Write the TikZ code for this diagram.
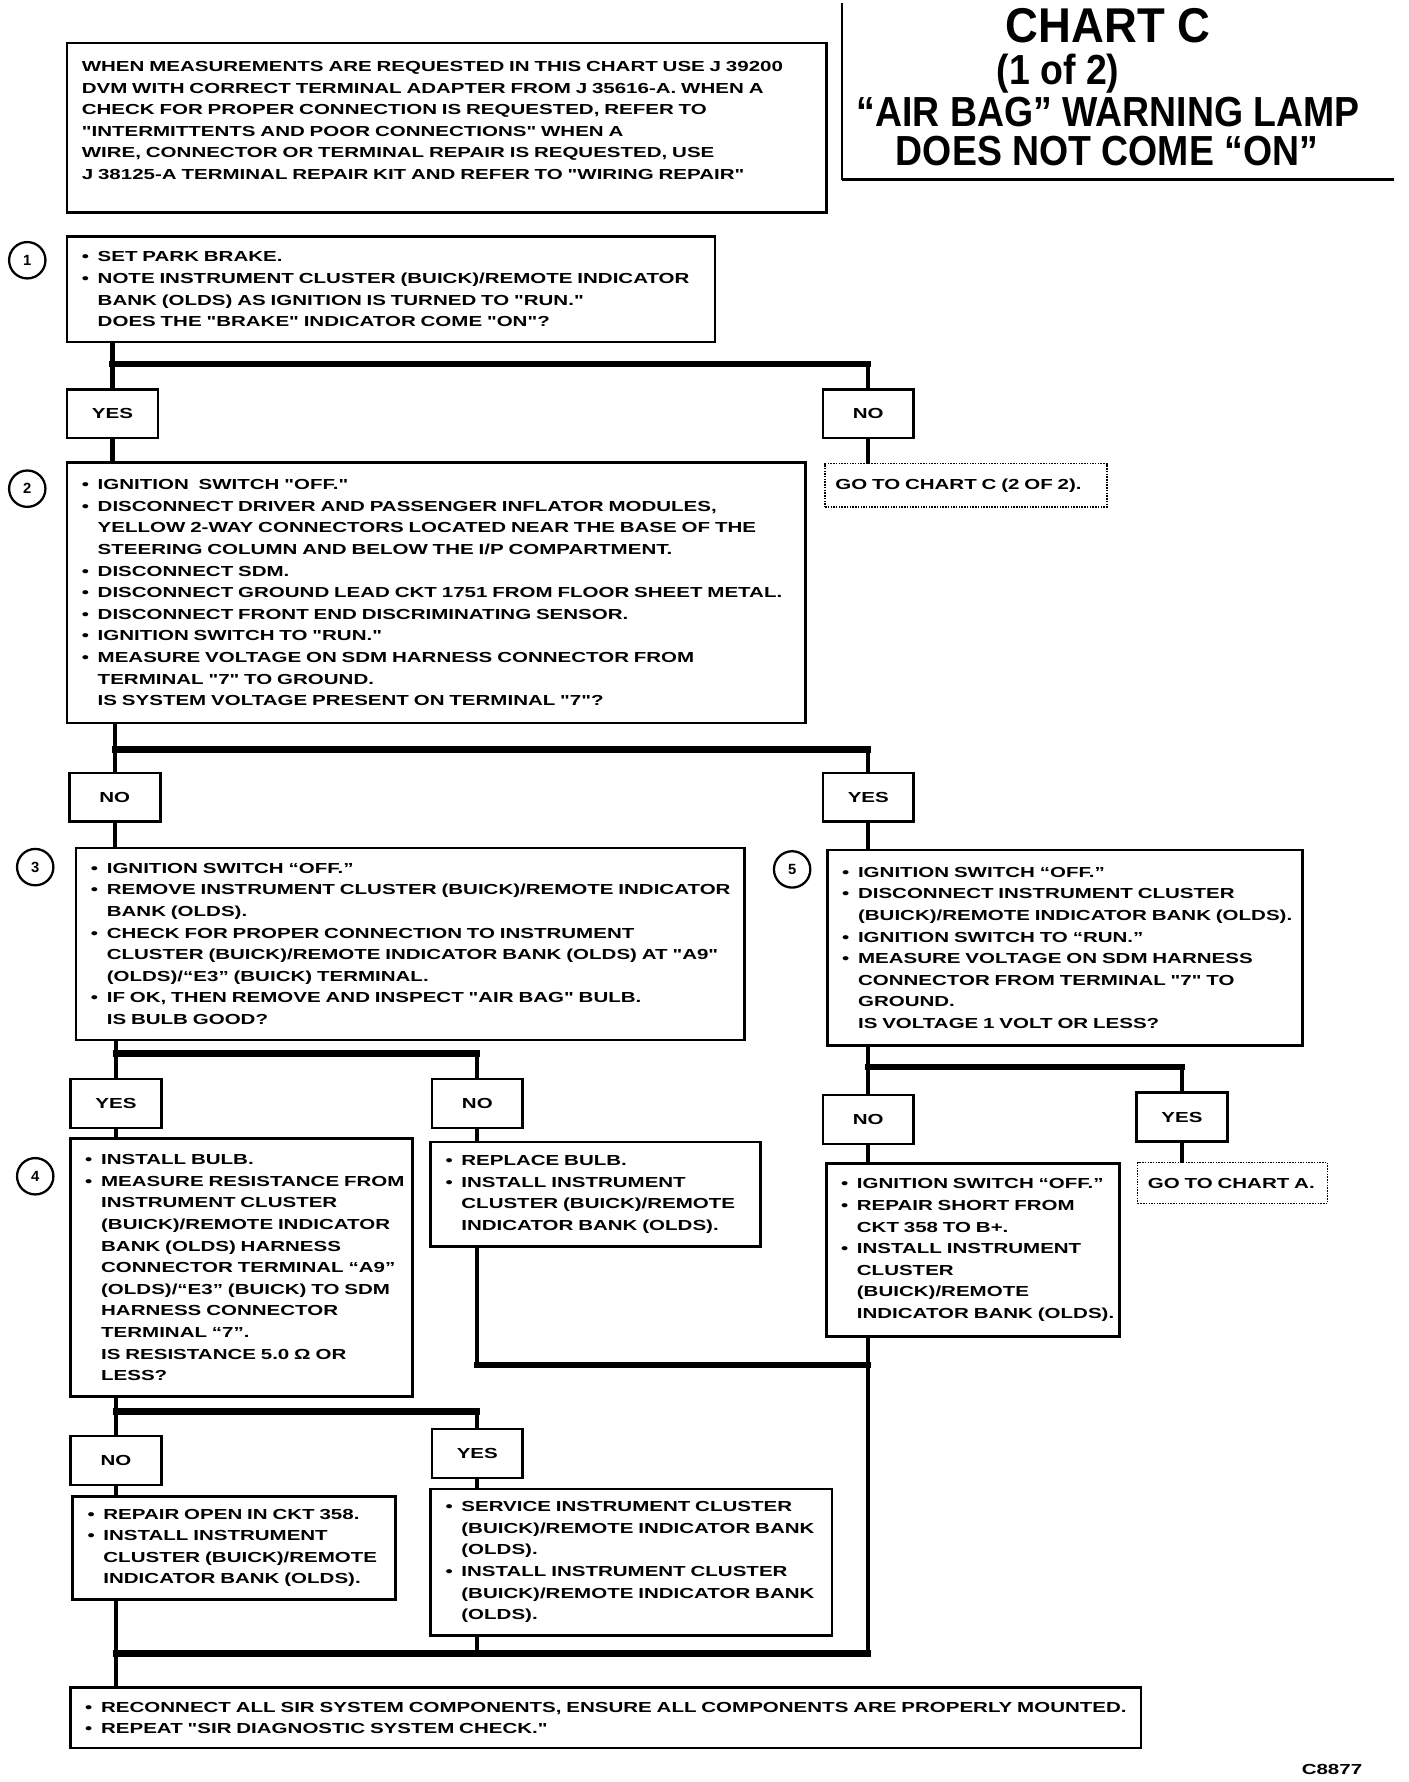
\documentclass[tikz,border=0pt]{standalone}
\usepackage{fontspec}
\newfontfamily\bodyff{Liberation Sans}[FakeStretch=1.41]
\newfontfamily\titleff{Liberation Sans}[FakeStretch=0.89]
\newfontfamily\titleffB{Liberation Sans}[FakeStretch=0.93]
\newfontfamily\numff{Liberation Sans}
\newcommand\bodyfont{\bodyff\bfseries\fontsize{12.8}{19}\selectfont}
\newcommand\Bul[1]{\mbox{\makebox[14pt][l]{•}#1}}
\newcommand\Cnt[1]{\mbox{\hspace*{14pt}#1}}
\tikzset{
  tbox/.style 2 args={draw, line width=2.3pt, anchor=north west, outer sep=0pt,
    inner xsep=13pt, inner ysep=0pt, align=left, font=\bodyfont,
    text width=#1pt, minimum height=#2pt},
  dbox/.style 2 args={draw, dash pattern=on 1.3pt off 1.1pt, line width=1.3pt,
    anchor=north west, outer sep=0pt, inner xsep=9pt, inner ysep=0pt,
    align=left, font=\bodyfont, text width=#1pt, minimum height=#2pt},
  lab/.style={draw, line width=2.3pt, minimum width=80pt, minimum height=43pt,
    inner sep=0pt, outer sep=0pt, font=\bodyfont},
  numc/.style={circle, draw, line width=2pt, minimum size=32pt, inner sep=0pt,
    font=\numff\bfseries\fontsize{13}{13}\selectfont},
  vl/.style={line width=3.8pt},
  hl/.style={line width=5.5pt, line cap=rect},
  ttl/.style={anchor=base, inner sep=0pt, font=\titleff\bfseries\fontsize{37}{37}\selectfont},
}
\begin{document}
\begin{tikzpicture}[x=1pt,y=-1pt]
\path[fill=white] (0,0) rectangle (1239,1568);
\useasboundingbox (0,0) rectangle (1239,1568);

% title block
\draw[line width=2pt] (741,3) -- (741,158);
\draw[line width=2.5pt] (741,158) -- (1227,158);
\node[ttl, font=\titleffB\bfseries\fontsize{43}{43}\selectfont] (t1) at (975,37) {CHART C};
\node[ttl] (t2) at (931,74) {(1 of 2)};
\node[ttl] (t3) at (975,111) {“AIR BAG” WARNING LAMP};
\node[ttl] (t4) at (974,146) {DOES NOT COME “ON”};

% note
\node[tbox={642}{149}] (note) at (59,38) {WHEN MEASUREMENTS ARE REQUESTED IN THIS CHART USE J 39200\\
DVM WITH CORRECT TERMINAL ADAPTER FROM J 35616-A. WHEN A\\
CHECK FOR PROPER CONNECTION IS REQUESTED, REFER TO\\
"INTERMITTENTS AND POOR CONNECTIONS" WHEN A\\
WIRE, CONNECTOR OR TERMINAL REPAIR IS REQUESTED, USE\\
J 38125-A TERMINAL REPAIR KIT AND REFER TO "WIRING REPAIR"\\[-6pt] \mbox{}};

% step 1
\node[numc] (c1) at (24,229) {1};
\node[tbox={544}{93}] (b1) at (59,208) {\Bul{SET PARK BRAKE.}\\
\Bul{NOTE INSTRUMENT CLUSTER (BUICK)/REMOTE INDICATOR}\\
\Cnt{BANK (OLDS) AS IGNITION IS TURNED TO "RUN."}\\
\Cnt{DOES THE "BRAKE" INDICATOR COME "ON"?}};
\node[lab] (y1) at (99,364) {YES};
\node[lab] (n1) at (764,364) {NO};
\node[dbox={230}{38}] (g1) at (726,408) {GO TO CHART C (2 OF 2).};

% step 2
\node[numc] (c2) at (24,430) {2};
\node[tbox={624}{229}] (b2) at (59,407) {\Bul{IGNITION\ \ SWITCH "OFF."}\\
\Bul{DISCONNECT DRIVER AND PASSENGER INFLATOR MODULES,}\\
\Cnt{YELLOW 2-WAY CONNECTORS LOCATED NEAR THE BASE OF THE}\\
\Cnt{STEERING COLUMN AND BELOW THE I/P COMPARTMENT.}\\
\Bul{DISCONNECT SDM.}\\
\Bul{DISCONNECT GROUND LEAD CKT 1751 FROM FLOOR SHEET METAL.}\\
\Bul{DISCONNECT FRONT END DISCRIMINATING SENSOR.}\\
\Bul{IGNITION SWITCH TO "RUN."}\\
\Bul{MEASURE VOLTAGE ON SDM HARNESS CONNECTOR FROM}\\
\Cnt{TERMINAL "7" TO GROUND.}\\
\Cnt{IS SYSTEM VOLTAGE PRESENT ON TERMINAL "7"?}};
\node[lab] (n2) at (101,701.5) {NO};
\node[lab] (y2) at (764,701.5) {YES};

% step 3
\node[numc] (c3) at (31,763) {3};
\node[tbox={562}{169}] (b3) at (67,746) {\Bul{IGNITION SWITCH “OFF.”}\\
\Bul{REMOVE INSTRUMENT CLUSTER (BUICK)/REMOTE INDICATOR}\\
\Cnt{BANK (OLDS).}\\
\Bul{CHECK FOR PROPER CONNECTION TO INSTRUMENT}\\
\Cnt{CLUSTER (BUICK)/REMOTE INDICATOR BANK (OLDS) AT "A9"}\\
\Cnt{(OLDS)/“E3” (BUICK) TERMINAL.}\\
\Bul{IF OK, THEN REMOVE AND INSPECT "AIR BAG" BULB.}\\
\Cnt{IS BULB GOOD?}};
\node[lab] (y3) at (102,971) {YES};
\node[lab] (n3) at (420,971) {NO};

% step 5
\node[numc] (c5) at (697,765) {5};
\node[tbox={392}{172}] (b5) at (728,748) {\Bul{IGNITION SWITCH “OFF.”}\\
\Bul{DISCONNECT INSTRUMENT CLUSTER}\\
\Cnt{(BUICK)/REMOTE INDICATOR BANK (OLDS).}\\
\Bul{IGNITION SWITCH TO “RUN.”}\\
\Bul{MEASURE VOLTAGE ON SDM HARNESS}\\
\Cnt{CONNECTOR FROM TERMINAL "7" TO}\\
\Cnt{GROUND.}\\
\Cnt{IS VOLTAGE 1 VOLT OR LESS?}};
\node[lab] (n5) at (764,985) {NO};
\node[lab] (y5) at (1040,983) {YES};

% step 4
\node[numc] (c4) at (31,1035) {4};
\node[tbox={275}{227}] (b4) at (62,1002) {\Bul{INSTALL BULB.}\\
\Bul{MEASURE RESISTANCE FROM}\\
\Cnt{INSTRUMENT CLUSTER}\\
\Cnt{(BUICK)/REMOTE INDICATOR}\\
\Cnt{BANK (OLDS) HARNESS}\\
\Cnt{CONNECTOR TERMINAL “A9”}\\
\Cnt{(OLDS)/“E3” (BUICK) TO SDM}\\
\Cnt{HARNESS CONNECTOR}\\
\Cnt{TERMINAL “7”.}\\
\Cnt{IS RESISTANCE 5.0 Ω OR}\\
\Cnt{LESS?}};

\node[tbox={264}{92}] (r3) at (379,1005) {\Bul{REPLACE BULB.}\\
\Bul{INSTALL INSTRUMENT}\\
\Cnt{CLUSTER (BUICK)/REMOTE}\\
\Cnt{INDICATOR BANK (OLDS).}};

\node[tbox={232}{152}] (r5) at (727,1024) {\Bul{IGNITION SWITCH “OFF.”}\\
\Bul{REPAIR SHORT FROM}\\
\Cnt{CKT 358 TO B+.}\\
\Bul{INSTALL INSTRUMENT}\\
\Cnt{CLUSTER}\\
\Cnt{(BUICK)/REMOTE}\\
\Cnt{INDICATOR BANK (OLDS).}};
\node[dbox={149}{36}] (g5) at (1001,1023) {GO TO CHART A.};

\node[lab] (n4) at (102,1285) {NO};
\node[lab] (y4) at (420,1279) {YES};
\node[tbox={258}{91}] (r4n) at (64,1316.5) {\Bul{REPAIR OPEN IN CKT 358.}\\
\Bul{INSTALL INSTRUMENT}\\
\Cnt{CLUSTER (BUICK)/REMOTE}\\
\Cnt{INDICATOR BANK (OLDS).}};
\node[tbox={327}{129}] (r4y) at (379,1310) {\Bul{SERVICE INSTRUMENT CLUSTER}\\
\Cnt{(BUICK)/REMOTE INDICATOR BANK}\\
\Cnt{(OLDS).}\\
\Bul{INSTALL INSTRUMENT CLUSTER}\\
\Cnt{(BUICK)/REMOTE INDICATOR BANK}\\
\Cnt{(OLDS).}};

\node[tbox={916}{53}] (fin) at (62,1485) {\Bul{RECONNECT ALL SIR SYSTEM COMPONENTS, ENSURE ALL COMPONENTS ARE PROPERLY MOUNTED.}\\
\Bul{REPEAT "SIR DIAGNOSTIC SYSTEM CHECK."}};

\node[anchor=base, inner sep=0pt, font=\bodyfont] (code) at (1172,1561) {C8877};

% connectors
\coordinate (j1a) at (99,320); \coordinate (j1b) at (764,320);
\draw[vl] (b1.south -| j1a) -- (y1.north);
\draw[hl] (j1a) -- (j1b);
\draw[vl] (j1b) -- (n1.north);
\draw[vl] (n1.south) -- (g1.north -| n1);
\draw[vl] (y1.south) -- (b2.north -| y1);

\coordinate (j2a) at (101,659.5); \coordinate (j2b) at (764,659.5);
\draw[vl] (b2.south -| j2a) -- (n2.north);
\draw[hl] (j2a) -- (j2b);
\draw[vl] (j2b) -- (y2.north);
\draw[vl] (n2.south) -- (b3.north -| n2);
\draw[vl] (y2.south) -- (b5.north -| y2);

\coordinate (j3a) at (102,927); \coordinate (j3b) at (420,927);
\draw[vl] (b3.south -| j3a) -- (y3.north);
\draw[hl] (j3a) -- (j3b);
\draw[vl] (j3b) -- (n3.north);
\draw[vl] (y3.south) -- (b4.north -| y3);
\draw[vl] (n3.south) -- (r3.north -| n3);

\coordinate (j5a) at (764,938.6); \coordinate (j5b) at (1040,938.6);
\draw[vl] (b5.south -| j5a) -- (n5.north);
\draw[hl] (j5a) -- (j5b);
\draw[vl] (j5b) -- (y5.north);
\draw[vl] (n5.south) -- (r5.north -| n5);
\draw[vl] (y5.south) -- (g5.north -| y5);

\coordinate (j4a) at (102,1242); \coordinate (j4b) at (420,1242);
\draw[vl] (b4.south -| j4a) -- (n4.north);
\draw[hl] (j4a) -- (j4b);
\draw[vl] (j4b) -- (y4.north);
\draw[vl] (n4.south) -- (r4n.north -| n4);
\draw[vl] (y4.south) -- (r4y.north -| y4);

\coordinate (k3) at (420,1201); \coordinate (k5) at (764,1201);
\draw[vl] (r3.south -| k3) -- (k3);
\draw[hl] (k3) -- (k5);

\coordinate (m1) at (102,1455); \coordinate (m3) at (420,1455); \coordinate (m2) at (764,1455);
\draw[vl] (r5.south -| m2) -- (m2);
\draw[vl] (r4n.south -| m1) -- (m1);
\draw[vl] (r4y.south -| m3) -- (m3);
\draw[hl] (m1) -- (m2);
\draw[vl] (m1) -- (fin.north -| m1);
\end{tikzpicture}
\end{document}
